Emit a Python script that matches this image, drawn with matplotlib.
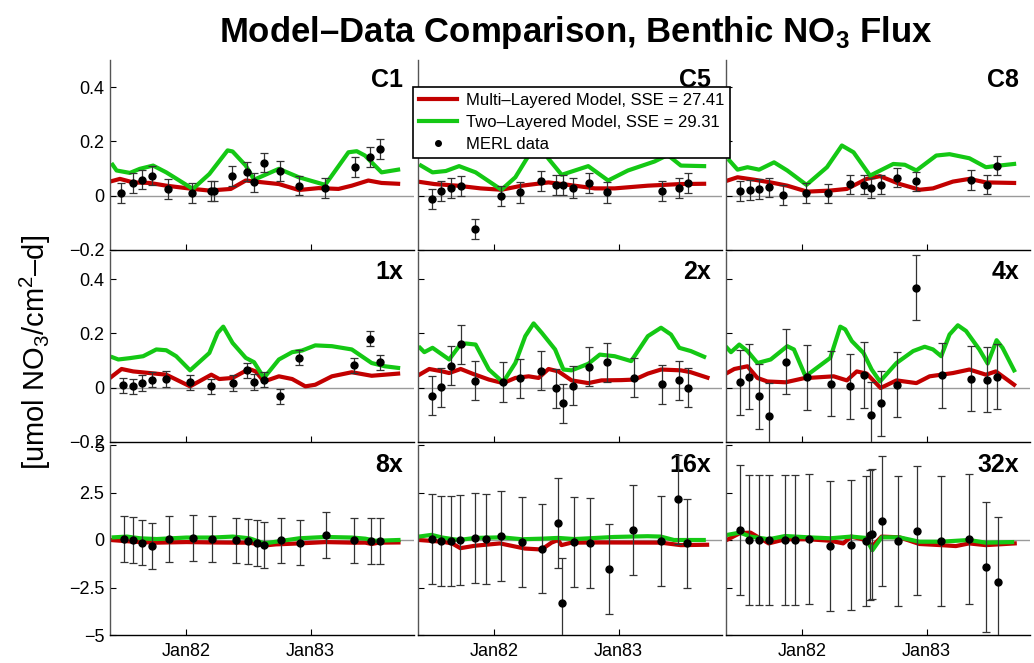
import numpy as np
import matplotlib
matplotlib.use("Agg")
import matplotlib.pyplot as plt
from matplotlib.lines import Line2D

plt.rcParams['font.family'] = ['Liberation Sans', 'DejaVu Sans']
plt.rcParams['mathtext.fontset'] = 'custom'
plt.rcParams['mathtext.rm'] = 'Liberation Sans'
plt.rcParams['mathtext.bf'] = 'Liberation Sans:bold'
plt.rcParams['axes.unicode_minus'] = True

# ---- data (time in decimal years) ----
c1_t = [1981.472, 1981.566, 1981.642, 1981.720, 1981.854, 1982.048, 1982.200, 1982.224, 1982.370,
        1982.490, 1982.544, 1982.622, 1982.752, 1982.906, 1983.118, 1983.358, 1983.480, 1983.558]
c1_obs = [0.011, 0.046, 0.059, 0.074, 0.025, 0.011, 0.017, 0.017, 0.073,
          0.089, 0.049, 0.122, 0.091, 0.037, 0.029, 0.105, 0.143, 0.173]
c1_multi_t = [1981.384, 1981.464, 1981.571, 1981.704, 1981.837, 1982.051, 1982.184, 1982.357, 1982.477,
              1982.557, 1982.744, 1982.904, 1983.064, 1983.224, 1983.331, 1983.464, 1983.571, 1983.704]
c1_multi = [0.052, 0.062, 0.049, 0.047, 0.037, 0.025, 0.019, 0.025, 0.056,
            0.052, 0.043, 0.021, 0.028, 0.025, 0.037, 0.056, 0.047, 0.044]
c1_two_t = [1981.405, 1981.437, 1981.544, 1981.624, 1981.731, 1981.837, 1982.051, 1982.184, 1982.331, 1982.371,
            1982.477, 1982.544, 1982.744, 1982.904, 1983.117, 1983.304, 1983.371, 1983.437, 1983.571, 1983.704]
c1_two = [0.114, 0.093, 0.084, 0.099, 0.111, 0.086, 0.025, 0.080, 0.167, 0.163,
          0.111, 0.059, 0.099, 0.068, 0.040, 0.160, 0.164, 0.148, 0.086, 0.096]
c1_err = 0.036

c5_t = [1981.496, 1981.573, 1981.651, 1981.728, 1981.840, 1982.056, 1982.205, 1982.376,
        1982.493, 1982.549, 1982.629, 1982.757, 1982.909, 1983.349, 1983.483, 1983.560]
c5_obs = [-0.012, 0.017, 0.027, 0.037, -0.121, 0.000, 0.012, 0.053,
          0.040, 0.041, 0.027, 0.046, 0.012, 0.019, 0.028, 0.048]
c5_multi_t = [1981.381, 1981.515, 1981.701, 1981.888, 1982.056, 1982.221, 1982.435, 1982.595,
              1982.808, 1982.968, 1983.235, 1983.501, 1983.688]
c5_multi = [0.052, 0.043, 0.037, 0.027, 0.022, 0.037, 0.049, 0.040,
            0.027, 0.027, 0.037, 0.043, 0.044]
c5_two_t = [1981.408, 1981.501, 1981.608, 1981.715, 1981.848, 1982.056, 1982.168, 1982.275, 1982.340,
            1982.435, 1982.541, 1982.755, 1982.915, 1983.075, 1983.288, 1983.395, 1983.501, 1983.688]
c5_two = [0.111, 0.086, 0.091, 0.109, 0.086, 0.022, 0.068, 0.148, 0.200,
          0.136, 0.077, 0.109, 0.056, 0.093, 0.126, 0.150, 0.111, 0.109]
c5_err = 0.037

c8_t = [1981.499, 1981.576, 1981.653, 1981.731, 1981.845, 1982.032, 1982.205, 1982.379,
        1982.499, 1982.552, 1982.629, 1982.760, 1982.915, 1983.355, 1983.488, 1983.565]
c8_obs = [0.017, 0.021, 0.025, 0.031, 0.002, 0.010, 0.009, 0.042,
          0.041, 0.028, 0.041, 0.067, 0.053, 0.058, 0.041, 0.111]
c8_multi_t = [1981.397, 1981.477, 1981.611, 1981.744, 1981.877, 1982.037, 1982.224, 1982.357, 1982.517,
              1982.624, 1982.784, 1982.944, 1983.051, 1983.211, 1983.344, 1983.477, 1983.704]
c8_multi = [0.056, 0.068, 0.059, 0.049, 0.037, 0.015, 0.019, 0.025, 0.062,
            0.072, 0.043, 0.022, 0.027, 0.052, 0.062, 0.049, 0.047]
c8_two_t = [1981.411, 1981.477, 1981.557, 1981.651, 1981.771, 1981.877, 1982.032, 1982.197, 1982.317, 1982.411,
            1982.544, 1982.731, 1982.824, 1982.917, 1983.077, 1983.184, 1983.344, 1983.477, 1983.584, 1983.704]
c8_two = [0.130, 0.096, 0.105, 0.096, 0.123, 0.093, 0.040, 0.105, 0.185, 0.160,
          0.074, 0.117, 0.114, 0.093, 0.148, 0.153, 0.138, 0.105, 0.111, 0.117]
c8_err = 0.036

x1_t = [1981.491, 1981.568, 1981.645, 1981.723, 1981.837, 1982.029, 1982.200, 1982.371,
        1982.491, 1982.544, 1982.621, 1982.752, 1982.907, 1983.347, 1983.480, 1983.557]
x1_obs = [0.009, 0.005, 0.017, 0.030, 0.032, 0.020, 0.005, 0.017,
          0.064, 0.021, 0.030, -0.032, 0.110, 0.083, 0.181, 0.094]
x1_multi_t = [1981.384, 1981.477, 1981.571, 1981.704, 1981.837, 1982.029, 1982.200, 1982.264, 1982.371, 1982.504,
              1982.557, 1982.624, 1982.744, 1982.851, 1982.957, 1983.037, 1983.171, 1983.331, 1983.491, 1983.704]
x1_multi = [0.036, 0.069, 0.060, 0.054, 0.048, 0.005, 0.048, 0.032, 0.036, 0.069,
            0.060, 0.023, 0.042, 0.032, 0.005, 0.011, 0.042, 0.057, 0.044, 0.052]
x1_two_t = [1981.405, 1981.451, 1981.544, 1981.651, 1981.757, 1981.837, 1981.917, 1982.029, 1982.184, 1982.251,
            1982.296, 1982.371, 1982.477, 1982.544, 1982.624, 1982.744, 1982.851, 1982.931, 1983.037, 1983.171,
            1983.331, 1983.491, 1983.597, 1983.704]
x1_two = [0.112, 0.104, 0.109, 0.116, 0.141, 0.138, 0.116, 0.064, 0.128, 0.202,
          0.225, 0.165, 0.110, 0.094, 0.036, 0.104, 0.131, 0.137, 0.156, 0.153,
          0.141, 0.091, 0.079, 0.073]
x1_err = 0.028

x2_t = [1981.496, 1981.573, 1981.651, 1981.728, 1981.843, 1982.069, 1982.205, 1982.376, 1982.493,
        1982.549, 1982.629, 1982.757, 1982.909, 1983.120, 1983.349, 1983.483, 1983.560]
x2_obs = [-0.030, 0.002, 0.081, 0.160, 0.025, 0.021, 0.035, 0.063, -0.002,
          -0.058, 0.007, 0.077, 0.093, 0.037, 0.012, 0.027, 0.000]
x2_multi_t = [1981.395, 1981.475, 1981.581, 1981.635, 1981.728, 1981.821, 1981.955, 1982.069, 1982.168, 1982.275,
              1982.355, 1982.435, 1982.515, 1982.621, 1982.755, 1982.861, 1983.021, 1983.128, 1983.235, 1983.341,
              1983.501, 1983.581, 1983.715]
x2_multi = [0.048, 0.069, 0.060, 0.054, 0.069, 0.052, 0.030, 0.017, 0.036, 0.042,
            0.036, 0.069, 0.060, 0.027, 0.017, 0.027, 0.028, 0.030, 0.052, 0.067,
            0.064, 0.057, 0.037]
x2_two_t = [1981.400, 1981.435, 1981.501, 1981.635, 1981.715, 1981.768, 1981.848, 1981.955, 1982.069, 1982.168,
            1982.248, 1982.315, 1982.381, 1982.488, 1982.555, 1982.621, 1982.755, 1982.848, 1982.968, 1983.101,
            1983.235, 1983.341, 1983.421, 1983.488, 1983.581, 1983.688]
x2_two = [0.147, 0.131, 0.147, 0.104, 0.153, 0.163, 0.159, 0.067, 0.020, 0.091,
          0.190, 0.237, 0.202, 0.141, 0.067, 0.064, 0.088, 0.122, 0.116, 0.098,
          0.190, 0.221, 0.196, 0.147, 0.135, 0.114]
x2_err = 0.072

x4_t = [1981.499, 1981.573, 1981.653, 1981.731, 1981.867, 1982.035, 1982.229, 1982.379, 1982.499,
        1982.552, 1982.629, 1982.760, 1982.915, 1983.125, 1983.355, 1983.485, 1983.563]
x4_obs = [0.020, 0.041, -0.031, -0.104, 0.096, 0.038, 0.015, 0.005, 0.047,
          -0.100, -0.057, 0.011, 0.368, 0.046, 0.033, 0.030, 0.041]
x4_multi_t = [1981.392, 1981.451, 1981.557, 1981.637, 1981.717, 1981.864, 1982.011, 1982.251, 1982.357, 1982.437,
              1982.517, 1982.629, 1982.757, 1982.917, 1983.024, 1983.211, 1983.344, 1983.477, 1983.557, 1983.704]
x4_multi = [0.054, 0.069, 0.079, 0.036, 0.023, 0.020, 0.035, 0.042, 0.027, 0.060,
            0.052, -0.001, 0.027, 0.017, 0.042, 0.054, 0.067, 0.048, 0.060, 0.011]
x4_two_t = [1981.392, 1981.424, 1981.491, 1981.557, 1981.637, 1981.744, 1981.877, 1981.931, 1982.024, 1982.224,
            1982.304, 1982.344, 1982.397, 1982.491, 1982.557, 1982.624, 1982.757, 1982.891, 1982.984, 1983.051,
            1983.117, 1983.184, 1983.251, 1983.317, 1983.424, 1983.491, 1983.563, 1983.611, 1983.704]
x4_two = [0.147, 0.131, 0.159, 0.135, 0.091, 0.104, 0.153, 0.141, 0.042, 0.110,
          0.225, 0.215, 0.172, 0.128, 0.067, 0.023, 0.091, 0.135, 0.151, 0.141,
          0.116, 0.196, 0.230, 0.209, 0.141, 0.089, 0.175, 0.147, 0.064]
x4_err = 0.12

x8_t = [1981.493, 1981.568, 1981.645, 1981.723, 1981.861, 1982.051, 1982.203, 1982.395, 1982.493,
        1982.565, 1982.627, 1982.757, 1982.912, 1983.123, 1983.352, 1983.485, 1983.560]
x8_obs = [0.05, 0.0, -0.14, -0.30, 0.04, 0.11, 0.04, -0.02, -0.07,
          -0.16, -0.27, -0.02, -0.14, 0.25, -0.02, -0.05, -0.04]
x8_multi_t = [1981.387, 1981.573, 1981.760, 1982.000, 1982.213, 1982.373, 1982.507, 1982.627,
              1982.720, 1982.907, 1983.120, 1983.333, 1983.440, 1983.493, 1983.547, 1983.707]
x8_multi = [0.0, -0.09, -0.14, -0.11, -0.13, -0.14, -0.14, -0.29,
            -0.23, -0.18, -0.11, -0.14, -0.14, -0.21, -0.14, -0.13]
x8_two_t = [1981.413, 1981.520, 1981.627, 1981.760, 1982.000, 1982.213, 1982.373, 1982.507,
            1982.627, 1982.720, 1982.907, 1983.120, 1983.333, 1983.440, 1983.520, 1983.707]
x8_two = [0.14, 0.18, 0.09, 0.05, 0.13, 0.13, 0.18, 0.09,
          -0.18, -0.09, 0.09, 0.16, 0.13, 0.07, -0.04, 0.0]
x8_err = 1.2

x16_t = [1981.493, 1981.571, 1981.648, 1981.725, 1981.840, 1981.933, 1982.053, 1982.221, 1982.384,
         1982.512, 1982.541, 1982.637, 1982.773, 1982.925, 1983.115, 1983.344, 1983.475, 1983.552]
x16_obs = [0.04, -0.04, -0.04, 0.0, 0.12, 0.05, 0.21, -0.12, -0.45,
           0.91, -3.32, -0.11, -0.16, -1.54, 0.52, -0.07, 2.14, -0.18]
x16_multi_t = [1981.392, 1981.579, 1981.659, 1981.725, 1981.845, 1982.045, 1982.245, 1982.379,
               1982.459, 1982.512, 1982.539, 1982.619, 1982.859, 1983.339, 1983.499, 1983.712]
x16_multi = [0.0, -0.09, -0.18, -0.43, -0.30, -0.18, -0.45, -0.50,
             -0.14, 0.0, -0.27, -0.14, -0.13, -0.14, -0.27, -0.25]
x16_two_t = [1981.392, 1981.493, 1981.579, 1981.712, 1981.845, 1982.059, 1982.219, 1982.379,
             1982.512, 1982.645, 1982.965, 1983.232, 1983.339, 1983.445, 1983.685]
x16_two = [0.18, 0.27, 0.13, 0.0, 0.11, 0.14, 0.04, 0.07,
           0.11, 0.05, 0.16, 0.20, 0.18, 0.0, 0.0]
x16_err = 2.36

x32_t = [1981.496, 1981.573, 1981.648, 1981.728, 1981.861, 1981.936, 1982.051, 1982.224, 1982.392, 1982.509,
         1982.547, 1982.563, 1982.637, 1982.773, 1982.925, 1983.115, 1983.341, 1983.475, 1983.571]
x32_obs = [0.54, 0.0, 0.0, 0.0, 0.0, 0.0, 0.07, -0.32, -0.27, -0.07,
           0.27, 0.34, 0.98, -0.07, 0.5, -0.04, 0.05, -1.43, -2.21]
x32_multi_t = [1981.389, 1981.496, 1981.581, 1981.728, 1981.861, 1982.048, 1982.224, 1982.328, 1982.392, 1982.509,
               1982.563, 1982.637, 1982.781, 1982.941, 1983.115, 1983.235, 1983.341, 1983.475, 1983.709]
x32_multi = [0.0, 0.36, 0.39, -0.18, 0.04, 0.04, -0.04, -0.18, 0.18, 0.0,
             -0.32, 0.18, 0.14, -0.21, -0.27, -0.32, -0.18, -0.27, -0.18]
x32_two_t = [1981.395, 1981.496, 1981.581, 1981.728, 1981.861, 1982.048, 1982.224, 1982.392, 1982.509,
             1982.563, 1982.637, 1982.781, 1982.941, 1983.115, 1983.341, 1983.475, 1983.688]
x32_two = [0.27, 0.39, 0.18, 0.04, 0.21, 0.14, 0.09, 0.18, 0.11,
           -0.54, 0.14, 0.14, -0.09, -0.09, 0.0, -0.14, -0.11]
x32_err = 3.42

panel_names = ["C1", "C5", "C8", "1x", "2x", "4x", "8x", "16x", "32x"]
legend_labels = ["Multi\u2013Layered Model, SSE = 27.41",
                 "Two\u2013Layered Model, SSE = 29.31",
                 "MERL data"]
x_ticks = [1982, 1983]
x_ticklabels = ["Jan82", "Jan83"]

panels = [
    (c1_t, c1_obs, c1_err, c1_multi_t, c1_multi, c1_two_t, c1_two),
    (c5_t, c5_obs, c5_err, c5_multi_t, c5_multi, c5_two_t, c5_two),
    (c8_t, c8_obs, c8_err, c8_multi_t, c8_multi, c8_two_t, c8_two),
    (x1_t, x1_obs, x1_err, x1_multi_t, x1_multi, x1_two_t, x1_two),
    (x2_t, x2_obs, x2_err, x2_multi_t, x2_multi, x2_two_t, x2_two),
    (x4_t, x4_obs, x4_err, x4_multi_t, x4_multi, x4_two_t, x4_two),
    (x8_t, x8_obs, x8_err, x8_multi_t, x8_multi, x8_two_t, x8_two),
    (x16_t, x16_obs, x16_err, x16_multi_t, x16_multi, x16_two_t, x16_two),
    (x32_t, x32_obs, x32_err, x32_multi_t, x32_multi, x32_two_t, x32_two),
]

RED = '#c20000'
GREEN = '#14c814'
W, H = 1034.0, 663.0

fig = plt.figure(figsize=(10.34, 6.63), dpi=100)

col_left = [110, 418, 726]
col_w = 304
row_top = [60, 252, 445]
row_h = 190

for i, (t, obs, err, mt, mv, tt, tv) in enumerate(panels):
    r, c = divmod(i, 3)
    ax = fig.add_axes([col_left[c] / W, 1 - (row_top[r] + row_h) / H, col_w / W, row_h / H])
    ax.axhline(0, color='#9a9a9a', lw=1, zorder=1)
    ax.plot(mt, mv, color=RED, lw=3, zorder=2, solid_joinstyle='round')
    ax.plot(tt, tv, color=GREEN, lw=3, zorder=2, solid_joinstyle='round')
    ax.errorbar(t, obs, yerr=err, fmt='o', color='k', ms=5, ecolor='#333333',
                elinewidth=0.9, capsize=3, capthick=0.9, zorder=3)
    ax.set_xlim(1981.384, 1983.832)
    ax.set_xticks(x_ticks)
    if r < 2:
        ax.set_ylim(-0.2, 0.5)
        ax.set_yticks([-0.2, 0, 0.2, 0.4])
        ax.set_yticklabels(["\u22120.2", "0", "0.2", "0.4"])
    else:
        ax.set_ylim(-5, 5)
        ax.set_yticks([-5, -2.5, 0, 2.5, 5])
        ax.set_yticklabels(["\u22125", "\u22122.5", "0", "2.5", "5"])
    if r == 2:
        ax.set_xticklabels(x_ticklabels)
    else:
        ax.set_xticklabels([])
    if c > 0:
        ax.set_yticklabels([])
    ax.tick_params(direction='in', length=4, width=0.8, labelsize=13, pad=4)
    ax.tick_params(axis='x', pad=6)
    ax.spines['top'].set_visible(False)
    ax.spines['right'].set_visible(False)
    ax.spines['left'].set_color('#555555')
    ax.spines['bottom'].set_color('k')
    ax.spines['left'].set_linewidth(1)
    ax.spines['bottom'].set_linewidth(1)
    ax.patch.set_alpha(0)
    ax.text(0.965, 0.96, panel_names[i], transform=ax.transAxes, ha='right', va='top',
            fontsize=18, fontweight='bold', zorder=1)

handles = [Line2D([], [], color=RED, lw=3),
           Line2D([], [], color=GREEN, lw=3),
           Line2D([], [], color='k', marker='o', ms=4, ls='none')]
leg = fig.legend(handles, legend_labels, loc='upper left',
                 bbox_to_anchor=(413 / W, 1 - 87 / H), bbox_transform=fig.transFigure,
                 fontsize=12, fancybox=False, edgecolor='k', framealpha=1,
                 borderaxespad=0, borderpad=0.35, handlelength=2.3, handletextpad=0.5,
                 labelspacing=0.42)
leg.get_frame().set_linewidth(1.2)

fig.text(0.557, 1 - 42 / H, "Model\u2013Data Comparison, Benthic NO$_\\mathbf{3}$ Flux",
         ha='center', va='baseline', fontsize=25, fontweight='bold')
fig.text(0.034, 1 - 352 / H, "[umol NO$_3$/cm$^2$\u2013d]", rotation=90,
         ha='center', va='center', fontsize=21)

fig.savefig("out.png", dpi=100)
